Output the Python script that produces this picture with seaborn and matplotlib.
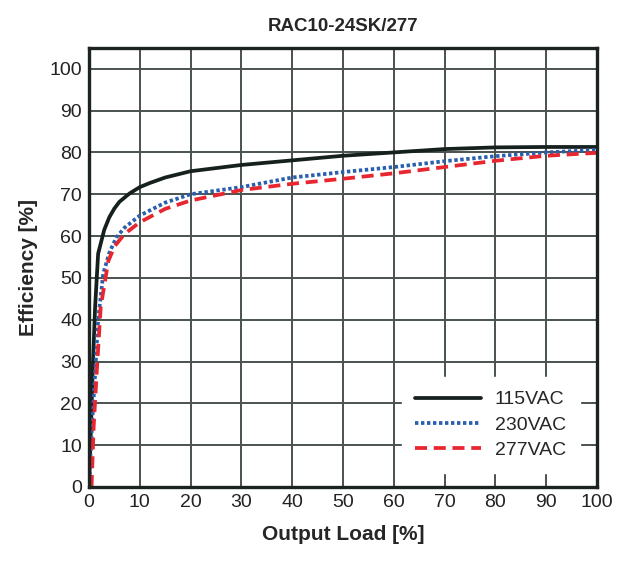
import numpy as np
import pandas as pd
import seaborn as sns
import matplotlib.pyplot as plt

# values
load_115 = [0, 0.4, 0.7, 1.2, 1.8, 3, 4, 5, 6, 8, 10, 12, 15, 20, 30, 40, 50, 60, 70, 80, 90, 100]
eff_115 = [0, 15, 27, 43, 55.8, 61.5, 64.5, 66.6, 68.2, 70.2, 71.7, 72.7, 74, 75.5, 77, 78.1, 79.2, 80, 80.8, 81.2, 81.3, 81.3]

load_230 = [0, 0.3, 0.7, 1.2, 1.8, 2.8, 4, 5.4, 7, 10, 15, 20, 30, 40, 50, 60, 70, 80, 90, 100]
eff_230 = [0, 8, 17, 27, 40, 51, 56, 59.7, 62, 64.9, 68, 70, 71.7, 74, 75.3, 76.5, 77.9, 79.1, 80, 80.6]

load_277 = [0.5, 0.9, 1.5, 2.3, 3.8, 5, 7, 10, 15, 20, 30, 40, 50, 60, 70, 80, 90, 100]
eff_277 = [0, 14, 27, 43, 54, 57.5, 60.5, 63.3, 66.5, 68.5, 71, 72.5, 73.7, 75, 76.5, 78, 79.2, 79.9]

series = ['115VAC', '230VAC', '277VAC']
colors = {'115VAC': '#16201e', '230VAC': '#2a5fae', '277VAC': '#e8262f'}
dashes = {'115VAC': '', '230VAC': (0.9, 0.7), '277VAC': (3.2, 1.8)}


def main():
    df = pd.concat([
        pd.DataFrame({'load': load_115, 'eff': eff_115, 'input': '115VAC'}),
        pd.DataFrame({'load': load_230, 'eff': eff_230, 'input': '230VAC'}),
        pd.DataFrame({'load': load_277, 'eff': eff_277, 'input': '277VAC'}),
    ])

    sns.set_style('white')
    plt.rcParams['font.family'] = ['Liberation Sans', 'DejaVu Sans']

    fig = plt.figure(figsize=(6.29, 5.63), dpi=100)
    ax = fig.add_axes([0.1415, 0.135, 0.8075, 0.78])

    sns.lineplot(data=df, x='load', y='eff', hue='input', style='input',
                 hue_order=series, style_order=series, palette=colors,
                 dashes=dashes, linewidth=2.7, sort=False, estimator=None, ax=ax)

    ax.set_xlim(0, 100)
    ax.set_ylim(0, 105)
    ax.set_xticks(range(0, 101, 10))
    ax.set_yticks(range(0, 101, 10))
    ax.tick_params(labelsize=14, length=0, pad=5, colors='#222222')
    ax.grid(True, color='#4a5250', linewidth=1.4)
    ax.set_axisbelow(True)
    for sp in ax.spines.values():
        sp.set_color('#1c2422')
        sp.set_linewidth(2.4)

    ax.set_title('RAC10-24SK/277', fontsize=13.5, fontweight='bold', pad=12)
    ax.set_xlabel('Output Load [%]', fontsize=15, fontweight='bold', labelpad=10)
    ax.set_ylabel('Efficiency [%]', fontsize=15, fontweight='bold', labelpad=8)

    leg = ax.legend(loc='lower right', bbox_to_anchor=(0.985, 0.01), fontsize=14,
                    frameon=True, fancybox=False, handlelength=3.4,
                    handletextpad=0.7, labelspacing=0.4, borderpad=0.7)
    leg.get_frame().set_facecolor('white')
    leg.get_frame().set_edgecolor('white')
    leg.get_frame().set_alpha(1)

    fig.savefig('out.png', dpi=100)
    plt.close(fig)


if __name__ == "__main__":
    main()
